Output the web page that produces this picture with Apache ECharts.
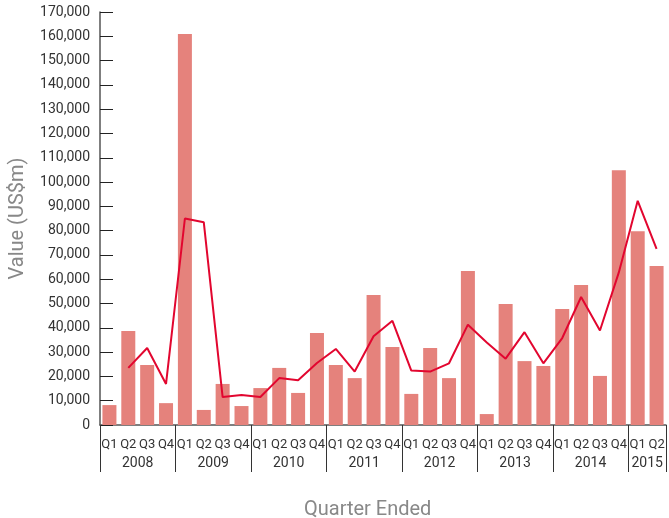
<!DOCTYPE html>
<html>
<head>
<meta charset="utf-8">
<script src="https://cdn.jsdelivr.net/npm/echarts@6/dist/echarts.min.js"></script>
<style>html,body{margin:0;padding:0;background:#fff}#c{width:669px;height:518px}</style>
</head>
<body>
<div id="c"></div>
<script>
const categories = [
  '2008 Q1','2008 Q2','2008 Q3','2008 Q4',
  '2009 Q1','2009 Q2','2009 Q3','2009 Q4',
  '2010 Q1','2010 Q2','2010 Q3','2010 Q4',
  '2011 Q1','2011 Q2','2011 Q3','2011 Q4',
  '2012 Q1','2012 Q2','2012 Q3','2012 Q4',
  '2013 Q1','2013 Q2','2013 Q3','2013 Q4',
  '2014 Q1','2014 Q2','2014 Q3','2014 Q4',
  '2015 Q1','2015 Q2'
];
const barValues = [
  8200, 38700, 24700, 9000,
  160900, 6200, 16900, 7800,
  15200, 23500, 13200, 37900,
  24700, 19300, 53500, 32100,
  12800, 31700, 19300, 63400,
  4500, 49800, 26300, 24300,
  47700, 57600, 20200, 104900,
  79800, 65400
];
const lineValues = [
  null, 23500, 31700, 16900,
  85000, 83500, 11500, 12300,
  11500, 19300, 18400, 25500,
  31300, 22000, 36500, 42900,
  22400, 22000, 25400, 41300,
  34000, 27300, 38200, 25400,
  35800, 52700, 38900, 62800,
  92300, 72500
];
const yMin = 0, yMax = 170000, yStep = 10000;
const yAxisName = 'Value (US$m)';
const xAxisName = 'Quarter Ended';

// year groups derived from categories
const yearGroups = [];
categories.forEach((c, i) => {
  const y = c.split(' ')[0];
  const last = yearGroups[yearGroups.length - 1];
  if (last && last.year === y) last.count++;
  else yearGroups.push({ year: y, start: i, count: 1 });
});
const yearLabelAt = {};
yearGroups.forEach(g => { yearLabelAt[g.start + g.count / 2] = g.year; });

const FONT = 'Roboto, "DejaVu Sans", sans-serif';
const chart = echarts.init(document.getElementById('c'), null, { renderer: 'canvas' });
chart.setOption({
  animation: false,
  backgroundColor: '#fff',
  title: {
    text: xAxisName,
    left: 299, top: 495,
    textStyle: { fontFamily: FONT, fontSize: 20, fontWeight: 'normal', color: '#888' }
  },
  grid: { left: 97, right: 0, top: 12, bottom: 93, containLabel: false },
  xAxis: [
    {
      type: 'category', data: categories, boundaryGap: true,
      axisLine: { lineStyle: { color: '#555', width: 1.5 } },
      axisTick: { inside: true, length: 10, interval: 0, lineStyle: { color: '#333' } },
      axisLabel: {
        interval: 0, margin: 13, fontFamily: FONT, fontSize: 13, color: '#333',
        formatter: v => v.split(' ')[1]
      },
      splitLine: { show: false }
    },
    {
      type: 'value', min: 0, max: categories.length, interval: 4, position: 'bottom',
      axisLine: { show: false },
      axisTick: { show: true, length: 47, lineStyle: { color: '#333' } },
      axisLabel: { show: false },
      splitLine: { show: false }
    },
    {
      type: 'value', min: 0, max: categories.length, interval: 1, position: 'bottom',
      axisLine: { show: false }, axisTick: { show: false }, splitLine: { show: false },
      axisLabel: {
        margin: 31, fontFamily: FONT, fontSize: 14, color: '#333',
        showMinLabel: true, showMaxLabel: true,
        formatter: v => yearLabelAt[v] || ''
      }
    }
  ],
  yAxis: {
    type: 'value', min: yMin, max: yMax, interval: yStep,
    name: yAxisName, nameLocation: 'middle', nameGap: 72, nameRotate: 90,
    nameTextStyle: { fontFamily: FONT, fontSize: 20, color: '#888' },
    axisLine: { show: true, lineStyle: { color: '#555', width: 1.5 } },
    axisTick: { show: true, inside: true, length: 13, lineStyle: { color: '#222' } },
    axisLabel: {
      margin: 10, fontFamily: FONT, fontSize: 14, color: '#333',
      formatter: v => v.toLocaleString('en-US')
    },
    splitLine: { show: false }
  },
  series: [
    {
      type: 'bar', data: barValues, xAxisIndex: 0, barWidth: 14,
      itemStyle: { color: '#e5827c' }
    },
    {
      type: 'line', data: lineValues, xAxisIndex: 0, showSymbol: false, symbol: 'none',
      connectNulls: false,
      lineStyle: { color: '#e2062f', width: 2 }
    }
  ]
});
</script>
</body>
</html>
